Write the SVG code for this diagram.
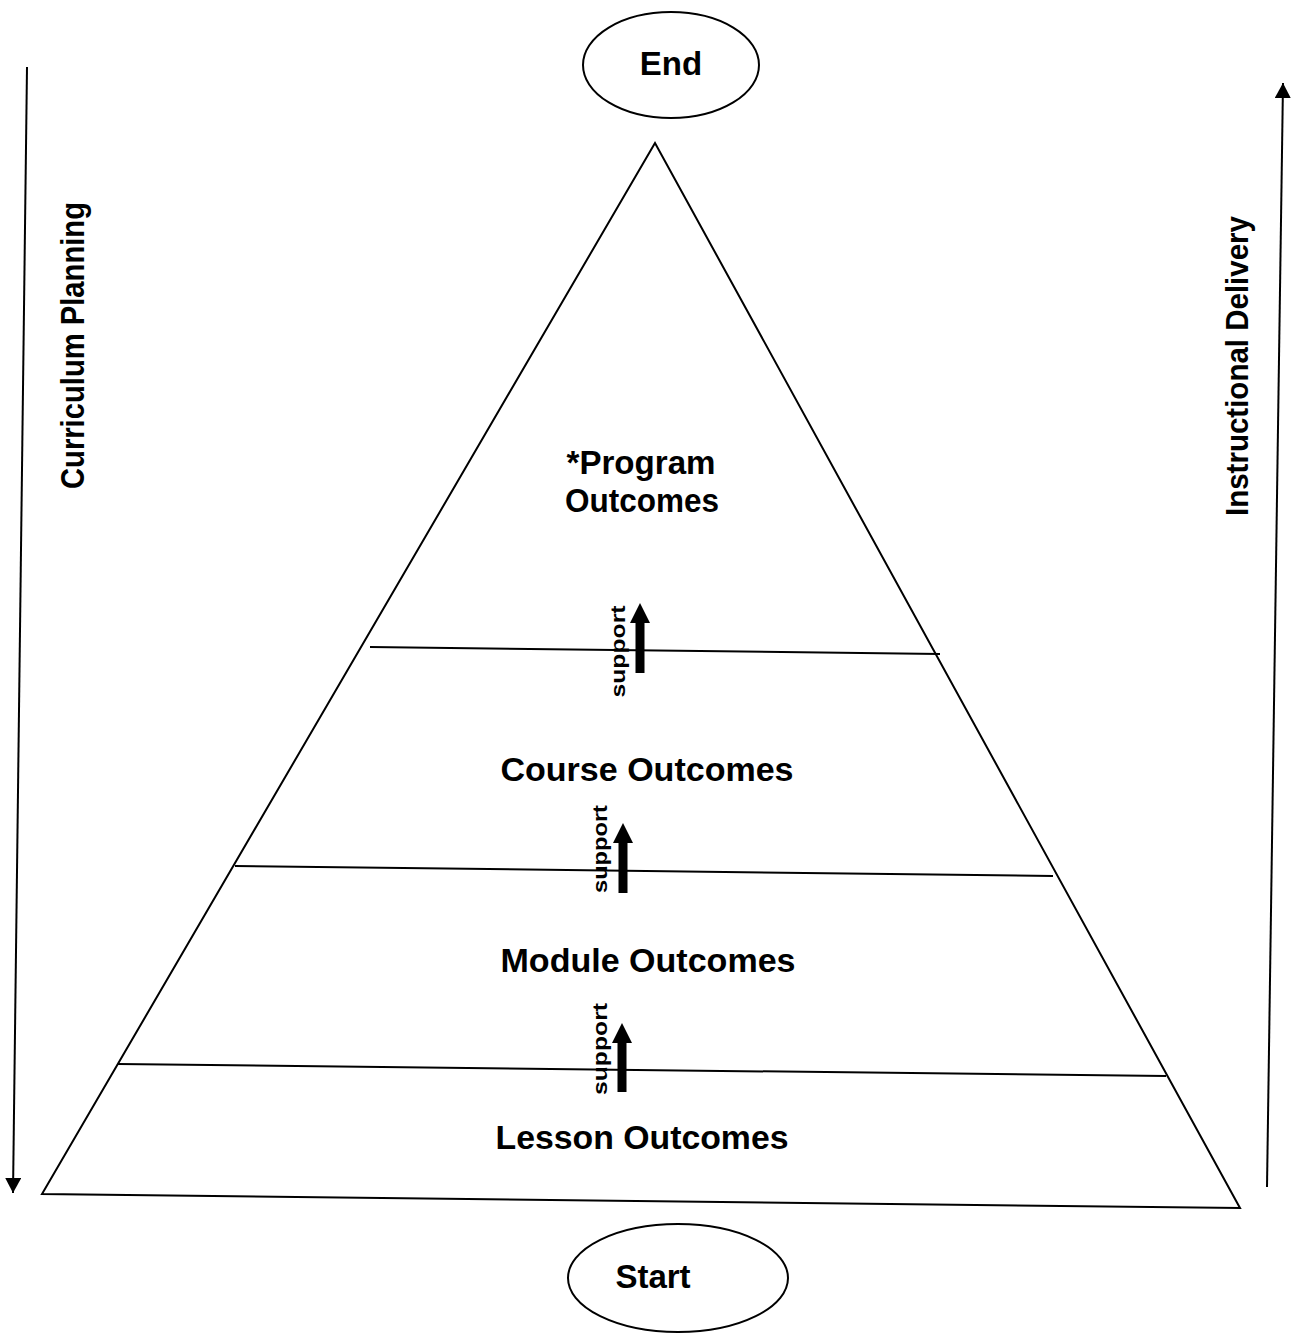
<svg xmlns="http://www.w3.org/2000/svg" width="1292" height="1334" viewBox="0 0 1292 1334">
<style>
.ln{stroke:#000;stroke-width:2;fill:none}
.t{font-family:"Liberation Sans",Arial,sans-serif;font-weight:bold;fill:#000}
.big{font-size:33px;text-anchor:middle}
.sup{font-size:21px;text-anchor:middle}
.side{text-anchor:middle}
.arr{fill:#000;stroke:none}
</style>
<defs>
<marker id="ah" markerUnits="userSpaceOnUse" markerWidth="16" markerHeight="16" refX="15" refY="8" orient="auto">
<path d="M0,0 L15,8 L0,16 Z" fill="#000"/>
</marker>
</defs>
<rect width="1292" height="1334" fill="#fff"/>
<g id="connectors">
<line class="ln" x1="27" y1="67" x2="13" y2="1193" marker-end="url(#ah)"/>
<line class="ln" x1="1267" y1="1187" x2="1283" y2="83" marker-end="url(#ah)"/>
</g>
<g id="pyramid">
<polygon class="ln" points="655,143 42,1194 1240,1208"/>
<line class="ln" x1="370" y1="647" x2="940" y2="654"/>
<line class="ln" x1="235" y1="866" x2="1053" y2="876"/>
<line class="ln" x1="118" y1="1064" x2="1166" y2="1076"/>
</g>
<g id="end">
<ellipse class="ln" cx="671" cy="65" rx="88" ry="53"/>
<text class="t big" x="671" y="75">End</text>
</g>
<g id="start">
<ellipse class="ln" cx="678" cy="1278" rx="110" ry="54"/>
<text class="t big" x="653" y="1288">Start</text>
</g>
<g id="program">
<text class="t big" x="641" y="474" textLength="149" lengthAdjust="spacingAndGlyphs">*Program</text>
<text class="t big" x="642" y="512" textLength="154" lengthAdjust="spacingAndGlyphs">Outcomes</text>
</g>
<g id="course">
<text class="t big" x="647" y="781" textLength="293" lengthAdjust="spacingAndGlyphs">Course Outcomes</text>
</g>
<g id="module">
<text class="t big" x="648" y="972" textLength="295" lengthAdjust="spacingAndGlyphs">Module Outcomes</text>
</g>
<g id="lesson">
<text class="t big" x="642" y="1149" textLength="293" lengthAdjust="spacingAndGlyphs">Lesson Outcomes</text>
</g>
<g id="support1">
<text class="t sup" transform="translate(625,651.5) rotate(-90)" textLength="92" lengthAdjust="spacingAndGlyphs">support</text>
<path class="arr" d="M635.5,673 L644.5,673 L644.5,623 L650,623 L640,603 L630,623 L635.5,623 Z"/>
</g>
<g id="support2">
<text class="t sup" transform="translate(607,849) rotate(-90)" textLength="88" lengthAdjust="spacingAndGlyphs">support</text>
<path class="arr" d="M618.5,893 L627.5,893 L627.5,843 L633,843 L623,823 L613,843 L618.5,843 Z"/>
</g>
<g id="support3">
<text class="t sup" transform="translate(607,1049) rotate(-90)" textLength="92" lengthAdjust="spacingAndGlyphs">support</text>
<path class="arr" d="M617.5,1092 L626.5,1092 L626.5,1043 L632,1043 L622,1023 L612,1043 L617.5,1043 Z"/>
</g>
<g id="curriculum-planning">
<text class="t side" style="font-size:34px" transform="translate(84,345.5) rotate(-90)" textLength="287" lengthAdjust="spacingAndGlyphs">Curriculum Planning</text>
</g>
<g id="instructional-delivery">
<text class="t side" style="font-size:32px" transform="translate(1248,366) rotate(-90)" textLength="300" lengthAdjust="spacingAndGlyphs">Instructional Delivery</text>
</g>
</svg>
